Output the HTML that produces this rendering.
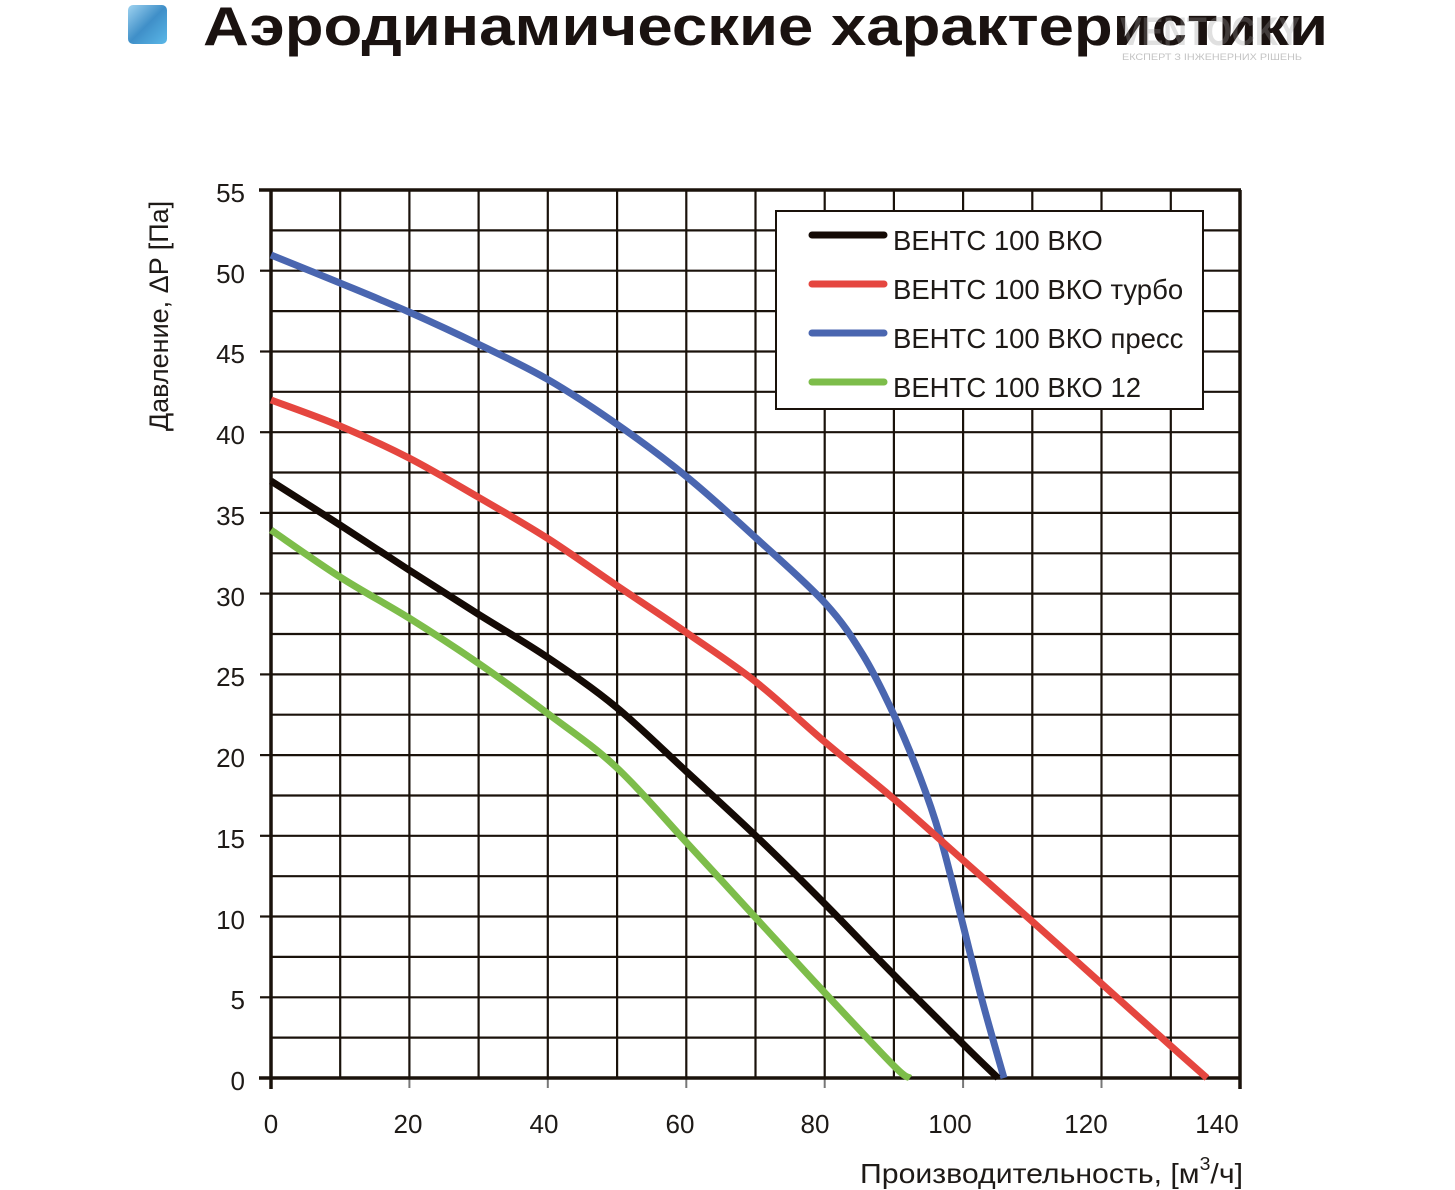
<!DOCTYPE html>
<html><head><meta charset="utf-8">
<style>
html,body{margin:0;padding:0;background:#fff;}
svg{display:block;}
text{font-family:"Liberation Sans","DejaVu Sans",sans-serif;fill:#1e1a17;}
</style></head>
<body>
<svg width="1455" height="1190" viewBox="0 0 1455 1190" xmlns="http://www.w3.org/2000/svg">
<defs>
<linearGradient id="ic" x1="0" y1="0" x2="1" y2="1">
<stop offset="0" stop-color="#9fd3f0"/><stop offset="0.5" stop-color="#3f8fc8"/><stop offset="1" stop-color="#5bb8e8"/>
</linearGradient>
</defs>
<rect x="128" y="5" width="39" height="39" rx="5" fill="url(#ic)"/>
<text x="203" y="45" font-size="55" font-weight="bold" textLength="1125" lengthAdjust="spacingAndGlyphs" style="fill:#1a1210">Аэродинамические характеристики</text>
<text x="1120" y="45" font-size="40" font-weight="bold" textLength="180" lengthAdjust="spacingAndGlyphs" style="fill:#9a9a9a;opacity:0.3">VENTOCKY</text>
<text x="1122" y="60" font-size="9" textLength="180" lengthAdjust="spacingAndGlyphs" style="fill:#c4c4c4">ЕКСПЕРТ З ІНЖЕНЕРНИХ РІШЕНЬ</text>

<g stroke="#1a120b" stroke-width="2.2" fill="none">
<line x1="340.2" y1="190" x2="340.2" y2="1078"/>
<line x1="409.4" y1="190" x2="409.4" y2="1078"/>
<line x1="478.6" y1="190" x2="478.6" y2="1078"/>
<line x1="547.8" y1="190" x2="547.8" y2="1078"/>
<line x1="617.1" y1="190" x2="617.1" y2="1078"/>
<line x1="686.3" y1="190" x2="686.3" y2="1078"/>
<line x1="755.5" y1="190" x2="755.5" y2="1078"/>
<line x1="824.7" y1="190" x2="824.7" y2="1078"/>
<line x1="893.9" y1="190" x2="893.9" y2="1078"/>
<line x1="963.1" y1="190" x2="963.1" y2="1078"/>
<line x1="1032.3" y1="190" x2="1032.3" y2="1078"/>
<line x1="1101.5" y1="190" x2="1101.5" y2="1078"/>
<line x1="1170.8" y1="190" x2="1170.8" y2="1078"/>
<line x1="271" y1="1037.6" x2="1240" y2="1037.6"/>
<line x1="271" y1="997.3" x2="1240" y2="997.3"/>
<line x1="271" y1="956.9" x2="1240" y2="956.9"/>
<line x1="271" y1="916.5" x2="1240" y2="916.5"/>
<line x1="271" y1="876.2" x2="1240" y2="876.2"/>
<line x1="271" y1="835.8" x2="1240" y2="835.8"/>
<line x1="271" y1="795.5" x2="1240" y2="795.5"/>
<line x1="271" y1="755.1" x2="1240" y2="755.1"/>
<line x1="271" y1="714.7" x2="1240" y2="714.7"/>
<line x1="271" y1="674.4" x2="1240" y2="674.4"/>
<line x1="271" y1="634" x2="1240" y2="634"/>
<line x1="271" y1="593.6" x2="1240" y2="593.6"/>
<line x1="271" y1="553.3" x2="1240" y2="553.3"/>
<line x1="271" y1="512.9" x2="1240" y2="512.9"/>
<line x1="271" y1="472.5" x2="1240" y2="472.5"/>
<line x1="271" y1="432.2" x2="1240" y2="432.2"/>
<line x1="271" y1="391.8" x2="1240" y2="391.8"/>
<line x1="271" y1="351.5" x2="1240" y2="351.5"/>
<line x1="271" y1="311.1" x2="1240" y2="311.1"/>
<line x1="271" y1="270.7" x2="1240" y2="270.7"/>
<line x1="271" y1="230.4" x2="1240" y2="230.4"/>
<line x1="260" y1="997.3" x2="271" y2="997.3"/>
<line x1="260" y1="916.5" x2="271" y2="916.5"/>
<line x1="260" y1="835.8" x2="271" y2="835.8"/>
<line x1="260" y1="755.1" x2="271" y2="755.1"/>
<line x1="260" y1="674.4" x2="271" y2="674.4"/>
<line x1="260" y1="593.6" x2="271" y2="593.6"/>
<line x1="260" y1="512.9" x2="271" y2="512.9"/>
<line x1="260" y1="432.2" x2="271" y2="432.2"/>
<line x1="260" y1="351.5" x2="271" y2="351.5"/>
<line x1="260" y1="270.7" x2="271" y2="270.7"/>
</g>
<g stroke="#777" stroke-width="2" fill="none">
<line x1="409.4" y1="1078" x2="409.4" y2="1088"/>
<line x1="547.8" y1="1078" x2="547.8" y2="1088"/>
<line x1="686.3" y1="1078" x2="686.3" y2="1088"/>
<line x1="824.7" y1="1078" x2="824.7" y2="1088"/>
<line x1="963.1" y1="1078" x2="963.1" y2="1088"/>
<line x1="1101.5" y1="1078" x2="1101.5" y2="1088"/>
</g>
<g stroke="#1a120b" stroke-width="3.5" fill="none">
<line x1="259" y1="190" x2="1241" y2="190"/>
<line x1="1240" y1="190" x2="1240" y2="1089"/>
<line x1="259" y1="1078" x2="1241" y2="1078"/>
<line x1="271" y1="190" x2="271" y2="1089"/>
</g>

<rect x="776" y="211" width="427" height="198" fill="#fff" stroke="#1a120b" stroke-width="2"/>
<g stroke-width="7" stroke-linecap="round">
<line x1="812" y1="235" x2="884" y2="235" stroke="#140a05"/>
<line x1="812" y1="284" x2="884" y2="284" stroke="#e5463f"/>
<line x1="812" y1="333" x2="884" y2="333" stroke="#4a66b0"/>
<line x1="812" y1="382" x2="884" y2="382" stroke="#7dbd4a"/>
</g>
<g font-size="27.5">
<text x="893" y="250">ВЕНТС 100 ВКО</text>
<text x="893" y="299">ВЕНТС 100 ВКО турбо</text>
<text x="893" y="348">ВЕНТС 100 ВКО пресс</text>
<text x="893" y="397">ВЕНТС 100 ВКО 12</text>
</g>

<g fill="none" stroke-width="7" stroke-linejoin="round" stroke-linecap="butt">
<polyline class="c" stroke="#4a66b0" points="271,255 340,283 409,312 478,344 547,379 618,425 687,477 756,538 825,603 863,655 894,715 920,777 940,836 961,917 982,1000 1004,1078"/>
<polyline class="c" stroke="#e5463f" points="271,400 340,426 409,458 478,497 547,538 616,585 687,633 756,682 825,742 894,799 964,861 1034,923 1103,985 1172,1047 1207,1078"/>
<polyline class="c" stroke="#140a05" points="271,481 340,525 409,570 478,614 547,657 616,707 687,772 756,836 825,904 894,975 964,1045 998,1078"/>
<polyline class="c" stroke="#7dbd4a" points="271,530 340,577 409,618 478,663 547,713 616,767 687,843 755,917 825,993 894,1066 910,1078"/>
</g>

<g font-size="26" text-anchor="end">
<text x="245" y="202">55</text>
<text x="245" y="283">50</text>
<text x="245" y="363">45</text>
<text x="245" y="444">40</text>
<text x="245" y="525">35</text>
<text x="245" y="606">30</text>
<text x="245" y="686">25</text>
<text x="245" y="767">20</text>
<text x="245" y="848">15</text>
<text x="245" y="929">10</text>
<text x="245" y="1009">5</text>
<text x="245" y="1090">0</text>
</g>
<g font-size="26" text-anchor="middle">
<text x="271" y="1133">0</text>
<text x="408" y="1133">20</text>
<text x="544" y="1133">40</text>
<text x="680" y="1133">60</text>
<text x="815" y="1133">80</text>
<text x="950" y="1133">100</text>
<text x="1086" y="1133">120</text>
<text x="1217" y="1133">140</text>
</g>
<text transform="translate(168,316) rotate(-90)" font-size="27" text-anchor="middle">Давление, ΔP [Па]</text>
<text x="860" y="1183" font-size="28" textLength="383" lengthAdjust="spacingAndGlyphs">Производительность, [м<tspan font-size="18" dy="-13">3</tspan><tspan dy="13">/ч]</tspan></text>
</svg>
<script>
(function(){
  var ns="http://www.w3.org/2000/svg";
  var pls=document.querySelectorAll("polyline.c");
  for(var k=0;k<pls.length;k++){
    var pl=pls[k];
    var raw=pl.getAttribute("points").trim().split(/\s+/);
    var p=raw.map(function(s){var a=s.split(",");return [parseFloat(a[0]),parseFloat(a[1])];});
    var d="M"+p[0][0]+","+p[0][1];
    for(var i=0;i<p.length-1;i++){
      var p0=p[i>0?i-1:i],p1=p[i],p2=p[i+1],p3=p[i+2<p.length?i+2:i+1];
      var c1x=p1[0]+(p2[0]-p0[0])/6,c1y=p1[1]+(p2[1]-p0[1])/6;
      var c2x=p2[0]-(p3[0]-p1[0])/6,c2y=p2[1]-(p3[1]-p1[1])/6;
      d+=" C"+c1x.toFixed(1)+","+c1y.toFixed(1)+" "+c2x.toFixed(1)+","+c2y.toFixed(1)+" "+p2[0]+","+p2[1];
    }
    var path=document.createElementNS(ns,"path");
    path.setAttribute("d",d);
    path.setAttribute("stroke",pl.getAttribute("stroke"));
    pl.parentNode.replaceChild(path,pl);
  }
})();
</script>
</body></html>
